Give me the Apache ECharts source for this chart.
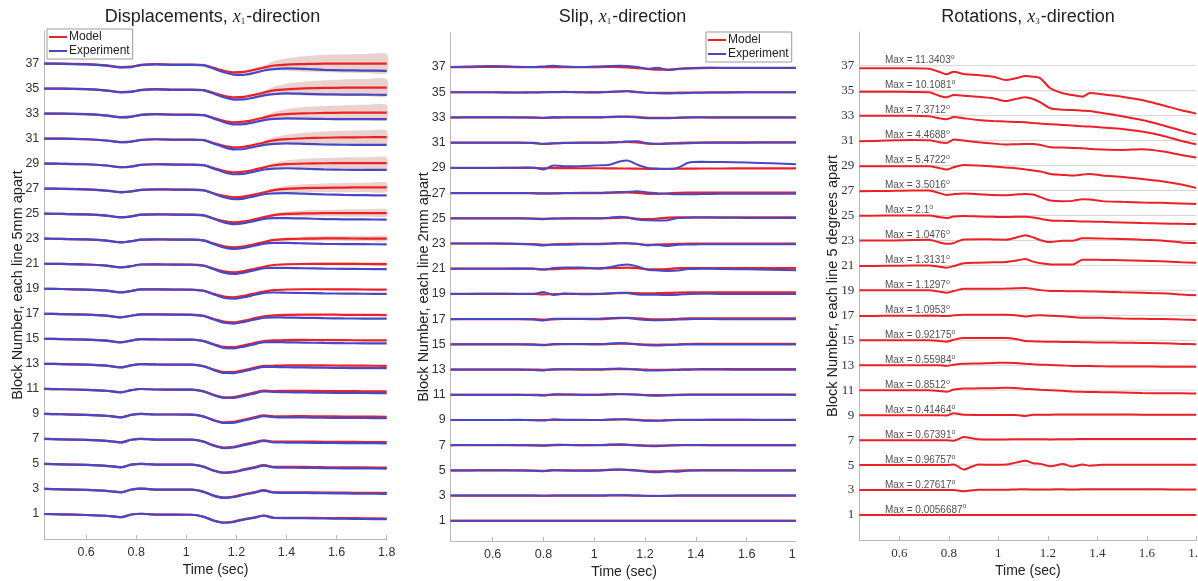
<!DOCTYPE html>
<html>
<head>
<meta charset="utf-8">
<title>Block response</title>
<script src="https://cdn.jsdelivr.net/npm/echarts@6/dist/echarts.min.js"></script>
<style>
  html, body { margin: 0; padding: 0; background: #fff; width: 1198px; height: 581px; overflow: hidden; }
  .panel { position: absolute; top: 0; height: 581px; overflow: hidden; }
</style>
</head>
<body>
<div id="p1" class="panel" style="left:0;width:400px"></div>
<div id="p2" class="panel" style="left:400px;width:396px"></div>
<div id="p3" class="panel" style="left:800px;width:398px"></div>
<script>
// ---- shared axes ----
const blocks = [1, 3, 5, 7, 9, 11, 13, 15, 17, 19, 21, 23, 25, 27, 29, 31, 33, 35, 37];
const timeTicks = [0.6, 0.8, 1, 1.2, 1.4, 1.6, 1.8];

// ---- displacements (offset from each block's line, in block units) ----
const dispTime = [0.433, 0.5, 0.6, 0.68, 0.74, 0.78, 0.82, 0.88, 0.95, 1.02, 1.07, 1.11, 1.15, 1.19, 1.23, 1.27, 1.31, 1.35, 1.4, 1.47, 1.55, 1.63, 1.71, 1.8];
const dispModel = [
  [0, -0.03, -0.08, -0.14, -0.25, -0.04, 0.02, -0.05, -0.05, -0.06, -0.22, -0.52, -0.68, -0.6, -0.42, -0.28, -0.12, -0.3, -0.3, -0.3, -0.32, -0.33, -0.34, -0.36],
  [0, -0.03, -0.08, -0.15, -0.26, -0.05, 0.02, -0.05, -0.05, -0.06, -0.23, -0.53, -0.69, -0.61, -0.42, -0.27, -0.1, -0.27, -0.27, -0.27, -0.29, -0.3, -0.31, -0.32],
  [0, -0.03, -0.08, -0.15, -0.26, -0.06, 0.01, -0.05, -0.05, -0.06, -0.23, -0.53, -0.69, -0.62, -0.43, -0.27, -0.1, -0.24, -0.24, -0.24, -0.26, -0.27, -0.28, -0.29],
  [0, -0.03, -0.08, -0.15, -0.27, -0.07, 0.01, -0.05, -0.05, -0.06, -0.22, -0.52, -0.69, -0.63, -0.44, -0.27, -0.11, -0.22, -0.21, -0.21, -0.23, -0.24, -0.25, -0.26],
  [0, -0.03, -0.08, -0.15, -0.27, -0.08, 0, -0.05, -0.05, -0.06, -0.21, -0.5, -0.68, -0.64, -0.46, -0.28, -0.12, -0.2, -0.19, -0.18, -0.2, -0.21, -0.22, -0.23],
  [0, -0.03, -0.08, -0.15, -0.27, -0.1, -0.01, -0.05, -0.06, -0.06, -0.2, -0.48, -0.67, -0.65, -0.48, -0.3, -0.14, -0.17, -0.16, -0.15, -0.17, -0.18, -0.19, -0.2],
  [0, -0.02, -0.07, -0.15, -0.27, -0.12, -0.02, -0.05, -0.06, -0.06, -0.19, -0.46, -0.66, -0.66, -0.5, -0.32, -0.16, -0.15, -0.13, -0.12, -0.13, -0.14, -0.15, -0.16],
  [0, -0.02, -0.07, -0.15, -0.27, -0.14, -0.03, -0.05, -0.06, -0.07, -0.18, -0.44, -0.65, -0.67, -0.52, -0.34, -0.18, -0.13, -0.1, -0.09, -0.1, -0.11, -0.12, -0.13],
  [0, -0.02, -0.07, -0.15, -0.27, -0.16, -0.04, -0.05, -0.06, -0.07, -0.17, -0.42, -0.63, -0.68, -0.55, -0.37, -0.2, -0.12, -0.08, -0.06, -0.07, -0.08, -0.09, -0.1],
  [0, -0.02, -0.07, -0.15, -0.28, -0.18, -0.05, -0.05, -0.06, -0.07, -0.16, -0.41, -0.62, -0.68, -0.57, -0.39, -0.22, -0.11, -0.06, -0.04, -0.04, -0.05, -0.06, -0.07],
  [0, -0.01, -0.06, -0.15, -0.28, -0.19, -0.06, -0.05, -0.07, -0.07, -0.15, -0.4, -0.61, -0.69, -0.59, -0.42, -0.24, -0.1, -0.04, -0.02, -0.01, -0.01, -0.02, -0.03],
  [0, -0.01, -0.06, -0.15, -0.28, -0.2, -0.07, -0.05, -0.07, -0.07, -0.14, -0.39, -0.6, -0.69, -0.61, -0.44, -0.26, -0.1, -0.03, 0, 0.02, 0.02, 0.01, 0],
  [0, -0.01, -0.06, -0.15, -0.28, -0.21, -0.08, -0.05, -0.07, -0.08, -0.13, -0.38, -0.59, -0.69, -0.62, -0.46, -0.28, -0.11, -0.02, 0.02, 0.04, 0.05, 0.05, 0.05],
  [0, -0.01, -0.05, -0.15, -0.28, -0.22, -0.09, -0.05, -0.07, -0.08, -0.13, -0.37, -0.58, -0.69, -0.63, -0.48, -0.3, -0.12, -0.02, 0.04, 0.07, 0.09, 0.1, 0.1],
  [0, -0.01, -0.05, -0.15, -0.28, -0.23, -0.09, -0.05, -0.07, -0.08, -0.12, -0.36, -0.58, -0.7, -0.64, -0.49, -0.3, -0.13, -0.04, 0.01, 0.03, 0.04, 0.04, 0.04],
  [0, 0, -0.05, -0.15, -0.28, -0.24, -0.1, -0.05, -0.08, -0.08, -0.12, -0.36, -0.58, -0.7, -0.65, -0.5, -0.31, -0.14, -0.04, 0.03, 0.07, 0.1, 0.11, 0.12],
  [0, 0, -0.05, -0.15, -0.28, -0.24, -0.1, -0.05, -0.08, -0.08, -0.12, -0.35, -0.58, -0.7, -0.65, -0.5, -0.31, -0.14, -0.05, 0.02, 0.05, 0.07, 0.08, 0.08],
  [0, 0, -0.05, -0.15, -0.28, -0.25, -0.1, -0.05, -0.08, -0.08, -0.12, -0.35, -0.58, -0.7, -0.66, -0.51, -0.32, -0.15, -0.06, 0.01, 0.05, 0.07, 0.08, 0.08],
  [0, 0, -0.05, -0.15, -0.28, -0.25, -0.1, -0.05, -0.08, -0.08, -0.12, -0.35, -0.58, -0.7, -0.66, -0.51, -0.32, -0.16, -0.08, -0.04, 0, 0, 0, 0]
];
const dispExp = [
  [0, -0.03, -0.08, -0.14, -0.26, -0.04, 0.02, -0.05, -0.05, -0.06, -0.23, -0.54, -0.7, -0.63, -0.45, -0.31, -0.14, -0.32, -0.33, -0.34, -0.36, -0.38, -0.4, -0.42],
  [0, -0.03, -0.08, -0.15, -0.27, -0.05, 0.02, -0.05, -0.05, -0.06, -0.24, -0.55, -0.71, -0.64, -0.46, -0.31, -0.13, -0.3, -0.31, -0.32, -0.34, -0.36, -0.38, -0.39],
  [0, -0.03, -0.08, -0.15, -0.27, -0.06, 0.01, -0.05, -0.05, -0.06, -0.24, -0.55, -0.72, -0.66, -0.48, -0.32, -0.14, -0.28, -0.3, -0.31, -0.33, -0.35, -0.36, -0.37],
  [0, -0.03, -0.08, -0.15, -0.28, -0.07, 0.01, -0.05, -0.05, -0.06, -0.23, -0.55, -0.73, -0.68, -0.5, -0.33, -0.16, -0.27, -0.29, -0.3, -0.32, -0.33, -0.34, -0.35],
  [0, -0.03, -0.08, -0.15, -0.28, -0.08, 0, -0.05, -0.05, -0.06, -0.22, -0.53, -0.73, -0.7, -0.53, -0.35, -0.18, -0.26, -0.28, -0.29, -0.31, -0.32, -0.33, -0.34],
  [0, -0.03, -0.08, -0.15, -0.28, -0.1, -0.01, -0.05, -0.06, -0.06, -0.21, -0.51, -0.73, -0.72, -0.56, -0.38, -0.21, -0.25, -0.27, -0.29, -0.31, -0.32, -0.33, -0.34],
  [0, -0.02, -0.07, -0.15, -0.28, -0.12, -0.02, -0.05, -0.06, -0.07, -0.2, -0.5, -0.73, -0.74, -0.59, -0.41, -0.24, -0.25, -0.27, -0.29, -0.31, -0.33, -0.34, -0.35],
  [0, -0.02, -0.07, -0.15, -0.28, -0.14, -0.03, -0.05, -0.07, -0.07, -0.19, -0.48, -0.73, -0.76, -0.62, -0.44, -0.27, -0.26, -0.28, -0.3, -0.33, -0.35, -0.36, -0.37],
  [0, -0.02, -0.07, -0.15, -0.28, -0.16, -0.04, -0.05, -0.07, -0.08, -0.18, -0.46, -0.72, -0.78, -0.65, -0.47, -0.3, -0.28, -0.3, -0.32, -0.35, -0.37, -0.38, -0.39],
  [0, -0.02, -0.07, -0.15, -0.29, -0.18, -0.05, -0.05, -0.07, -0.08, -0.17, -0.45, -0.72, -0.8, -0.68, -0.5, -0.33, -0.3, -0.32, -0.34, -0.37, -0.39, -0.4, -0.41],
  [0, -0.01, -0.06, -0.15, -0.29, -0.19, -0.06, -0.05, -0.07, -0.08, -0.16, -0.44, -0.71, -0.81, -0.71, -0.53, -0.36, -0.32, -0.33, -0.36, -0.39, -0.41, -0.42, -0.43],
  [0, -0.01, -0.06, -0.15, -0.29, -0.2, -0.07, -0.05, -0.08, -0.08, -0.15, -0.43, -0.7, -0.82, -0.73, -0.56, -0.39, -0.34, -0.34, -0.37, -0.41, -0.43, -0.44, -0.45],
  [0, -0.01, -0.06, -0.15, -0.29, -0.21, -0.08, -0.05, -0.08, -0.09, -0.14, -0.42, -0.69, -0.83, -0.76, -0.59, -0.42, -0.36, -0.35, -0.38, -0.43, -0.45, -0.46, -0.47],
  [0, -0.01, -0.05, -0.15, -0.29, -0.23, -0.09, -0.05, -0.08, -0.09, -0.14, -0.41, -0.69, -0.84, -0.79, -0.62, -0.45, -0.38, -0.36, -0.4, -0.46, -0.5, -0.52, -0.54],
  [0, -0.01, -0.05, -0.15, -0.29, -0.24, -0.1, -0.05, -0.08, -0.09, -0.13, -0.4, -0.68, -0.85, -0.81, -0.65, -0.47, -0.4, -0.37, -0.41, -0.46, -0.49, -0.5, -0.5],
  [0, 0, -0.05, -0.15, -0.29, -0.25, -0.11, -0.05, -0.09, -0.09, -0.13, -0.4, -0.68, -0.86, -0.83, -0.67, -0.5, -0.42, -0.38, -0.42, -0.47, -0.49, -0.5, -0.5],
  [0, 0, -0.05, -0.16, -0.3, -0.26, -0.11, -0.05, -0.09, -0.1, -0.13, -0.4, -0.68, -0.87, -0.85, -0.7, -0.52, -0.43, -0.38, -0.4, -0.43, -0.44, -0.45, -0.45],
  [0, 0, -0.05, -0.16, -0.3, -0.27, -0.12, -0.06, -0.1, -0.1, -0.14, -0.41, -0.69, -0.88, -0.87, -0.72, -0.54, -0.44, -0.39, -0.42, -0.46, -0.48, -0.49, -0.5],
  [0, -0.02, -0.07, -0.17, -0.3, -0.28, -0.12, -0.06, -0.1, -0.1, -0.15, -0.42, -0.7, -0.88, -0.9, -0.75, -0.56, -0.45, -0.39, -0.43, -0.5, -0.54, -0.56, -0.58]
];
// model spread (half width) for the upper blocks
const dispBandBlocks = [21, 23, 25, 27, 29, 31, 33, 35, 37];
const dispBand = [
  [0, 0, 0, 0, 0, 0, 0, 0, 0, 0, 0, 0, 0, 0, 0, 0, 0.02, 0.05, 0.08, 0.1, 0.12, 0.13, 0.13, 0.13],
  [0, 0, 0, 0, 0, 0, 0, 0, 0, 0, 0, 0, 0, 0, 0, 0.01, 0.04, 0.08, 0.13, 0.17, 0.19, 0.2, 0.21, 0.21],
  [0, 0, 0, 0, 0, 0, 0, 0, 0, 0, 0, 0, 0, 0, 0, 0.02, 0.06, 0.12, 0.19, 0.24, 0.27, 0.29, 0.3, 0.3],
  [0, 0, 0, 0, 0, 0, 0, 0, 0, 0, 0, 0, 0, 0, 0, 0.02, 0.08, 0.16, 0.25, 0.31, 0.35, 0.37, 0.38, 0.39],
  [0, 0, 0, 0, 0, 0, 0, 0, 0, 0, 0, 0, 0, 0, 0, 0.03, 0.1, 0.2, 0.3, 0.38, 0.42, 0.45, 0.46, 0.47],
  [0, 0, 0, 0, 0, 0, 0, 0, 0, 0, 0, 0, 0, 0, 0, 0.03, 0.12, 0.24, 0.35, 0.44, 0.5, 0.53, 0.55, 0.56],
  [0, 0, 0, 0, 0, 0, 0, 0, 0, 0, 0, 0, 0, 0, 0, 0.04, 0.14, 0.27, 0.4, 0.5, 0.56, 0.6, 0.62, 0.63],
  [0, 0, 0, 0, 0, 0, 0, 0, 0, 0, 0, 0, 0, 0, 0, 0.04, 0.15, 0.3, 0.45, 0.56, 0.62, 0.66, 0.68, 0.7],
  [0, 0, 0, 0, 0, 0, 0, 0, 0, 0, 0, 0, 0, 0, 0, 0.05, 0.18, 0.35, 0.5, 0.62, 0.7, 0.74, 0.76, 0.78]
];

// ---- slip ----
const slipTime = [0.435, 0.5, 0.6, 0.7, 0.76, 0.8, 0.84, 0.88, 0.95, 1.02, 1.06, 1.1, 1.13, 1.17, 1.21, 1.25, 1.29, 1.33, 1.37, 1.42, 1.5, 1.6, 1.7, 1.8];
const slipModel = [
  [0, 0, 0, 0, 0, 0, 0, 0, 0, 0, 0, 0, 0, 0, 0, 0, 0, 0, 0, 0, 0, 0, 0, 0],
  [0, 0, 0, 0, 0, -0.01, 0, 0, 0, 0, 0.01, 0.02, 0.02, 0, -0.02, -0.03, -0.02, 0, 0, 0, 0, 0, 0, 0],
  [0, 0, 0, 0, -0.01, -0.04, 0, 0.01, 0, 0, 0.04, 0.06, 0.04, 0, -0.05, -0.08, -0.05, -0.02, 0, 0, 0, 0, 0, 0],
  [0, 0, 0, 0, 0, -0.02, 0, 0.02, 0.01, 0, 0.02, 0.03, 0.03, 0, -0.03, -0.04, -0.02, 0, 0, 0, 0, 0, 0, 0],
  [0, 0, 0, 0, 0, 0, 0, 0, 0, 0, 0.02, 0.04, 0.04, 0.01, -0.03, -0.04, -0.02, 0, 0, 0, 0.01, 0.01, 0.01, 0.01],
  [0, 0, 0, 0, 0, -0.02, 0, 0.01, 0, 0, 0.02, 0.04, 0.04, 0.02, -0.02, -0.03, -0.02, 0, 0.02, 0.02, 0.02, 0.02, 0.02, 0.02],
  [0, 0, 0, 0, 0, -0.02, 0, 0.01, 0, 0, 0.02, 0.04, 0.04, 0.02, -0.01, -0.03, -0.02, 0, 0.02, 0.03, 0.03, 0.03, 0.03, 0.03],
  [0, 0, 0, 0, 0, -0.03, -0.01, 0.01, 0.01, 0, 0.03, 0.05, 0.05, 0.02, -0.02, -0.03, -0.02, 0, 0.03, 0.04, 0.04, 0.04, 0.04, 0.04],
  [0, 0, 0, 0, 0, -0.04, -0.02, 0.01, 0.01, 0, 0.04, 0.08, 0.1, 0.06, 0, -0.02, -0.01, 0.02, 0.06, 0.06, 0.06, 0.06, 0.06, 0.06],
  [0, 0, 0, 0, 0, -0.03, -0.02, 0, 0.01, 0.01, 0.04, 0.07, 0.08, 0.06, 0.04, 0.06, 0.08, 0.1, 0.12, 0.12, 0.13, 0.13, 0.13, 0.13],
  [0, 0, 0, 0, 0, -0.05, -0.04, 0, 0.02, 0.02, 0.05, 0.07, 0.08, 0.04, -0.04, -0.05, -0.03, 0.04, 0.05, 0.05, 0.05, 0.05, 0.05, 0.05],
  [0, 0, 0, -0.02, -0.05, -0.1, -0.06, -0.04, -0.03, -0.02, 0, 0.02, 0.02, -0.04, -0.1, -0.08, -0.06, -0.03, -0.01, 0, 0, 0, 0, 0],
  [0, 0, 0, 0, -0.02, -0.04, -0.02, -0.01, 0, 0, 0.02, 0.04, 0.06, -0.04, -0.06, -0.02, 0.06, 0.08, 0.08, 0.08, 0.08, 0.07, 0.07, 0.07],
  [0, 0, 0, 0, -0.01, -0.03, -0.02, -0.01, 0, 0, 0.02, 0.04, 0.05, 0.02, -0.06, -0.06, -0.02, 0.02, 0.04, 0.04, 0.04, 0.04, 0.04, 0.04],
  [0, 0, 0, 0, -0.01, -0.03, -0.02, -0.02, -0.03, -0.03, -0.04, -0.05, -0.05, -0.06, -0.08, -0.08, -0.08, -0.07, -0.06, -0.05, -0.05, -0.04, -0.04, -0.04],
  [0, 0, 0, 0, -0.02, -0.1, -0.06, -0.02, 0, 0, 0.02, 0.04, 0.06, 0.02, -0.08, -0.1, -0.06, -0.03, 0, 0.01, 0.02, 0.02, 0.02, 0.02],
  [0, 0, 0, 0, 0, -0.03, -0.02, 0, 0.01, 0, 0.03, 0.05, 0.07, 0.04, -0.03, -0.04, -0.03, -0.02, 0, 0, 0, 0, 0, 0],
  [0, 0, 0, -0.02, 0, 0, 0, 0.02, 0, -0.01, 0.04, 0.06, 0.1, 0.02, -0.04, -0.05, -0.05, -0.03, -0.02, -0.02, -0.01, 0, 0, 0],
  [0, 0, 0.02, 0, 0, 0, 0, 0, 0, 0, 0.01, 0, -0.02, -0.08, -0.15, -0.2, -0.2, -0.15, -0.1, -0.08, -0.07, -0.07, -0.07, -0.07]
];
const slipExp = [
  [0, 0, 0, 0, 0, 0, 0, 0, 0, 0, 0, 0, 0, 0, 0, 0, 0, 0, 0, 0, 0, 0, 0, 0],
  [0, 0, 0.01, 0, 0, -0.02, 0, 0, 0.01, 0.01, 0.02, 0.03, 0.02, 0, -0.03, -0.04, -0.02, 0, 0, 0.01, 0.01, 0, 0, 0],
  [0, 0, 0.01, 0, -0.02, -0.06, 0.03, 0, -0.02, 0, 0.06, 0.08, 0.03, -0.02, -0.1, -0.14, -0.06, -0.1, 0, 0.02, 0.01, 0, 0, 0],
  [0, 0.01, 0.01, 0, -0.02, -0.04, 0.04, 0.02, 0, 0.01, 0.05, 0.08, 0.04, -0.02, -0.06, -0.08, -0.03, 0, 0.01, 0.01, 0, 0, 0, 0],
  [0, 0, 0, 0.01, -0.02, -0.05, 0.05, 0.02, 0.01, 0, 0.04, 0.06, 0.05, -0.02, -0.07, -0.06, -0.02, 0.01, 0.02, 0.02, 0.01, 0.01, 0, 0],
  [0, 0, 0.01, 0.01, -0.03, -0.06, 0.04, 0.03, 0, 0.01, 0.05, 0.07, 0.05, 0, -0.06, -0.08, -0.04, -0.02, 0, 0.01, 0, 0, 0, -0.01],
  [0, 0.01, 0.01, 0, -0.03, -0.07, 0.03, 0.02, 0.02, 0.02, 0.06, 0.09, 0.06, 0, -0.07, -0.08, -0.05, -0.03, -0.01, 0, 0, -0.01, -0.01, -0.01],
  [0, 0.01, 0.01, 0, -0.03, -0.08, 0.03, 0.03, 0.02, 0.02, 0.06, 0.1, 0.06, -0.02, -0.08, -0.1, -0.06, -0.03, -0.01, 0, -0.01, -0.01, -0.02, -0.02],
  [0, 0.01, 0.02, 0.01, -0.03, -0.1, 0.04, 0.04, 0.03, 0.03, 0.08, 0.12, 0.1, 0, -0.06, -0.08, -0.06, -0.03, 0, 0.01, 0, 0, -0.01, -0.01],
  [0, 0, 0.01, 0, 0, 0.16, -0.08, 0.04, -0.02, 0, 0.04, 0.1, 0.08, -0.04, -0.06, -0.07, -0.08, -0.06, 0, 0.02, 0, -0.01, -0.01, 0],
  [0, 0, 0, 0.01, 0, -0.07, 0.05, 0.1, 0.1, 0.02, 0.12, 0.28, 0.34, 0.18, -0.08, -0.14, -0.18, -0.15, -0.02, 0, -0.02, -0.05, -0.08, -0.12],
  [0, 0, 0, -0.03, -0.08, -0.15, -0.1, -0.1, -0.06, -0.05, -0.02, 0.02, 0.02, -0.02, -0.15, -0.1, -0.2, -0.1, -0.08, -0.06, -0.05, -0.05, -0.05, -0.05],
  [0, 0, 0, 0, -0.03, -0.07, -0.02, -0.01, 0, 0.01, 0.04, 0.13, 0.06, -0.1, -0.16, -0.17, -0.15, 0.02, 0.05, 0.06, 0.05, 0.03, 0.02, 0.03],
  [0, 0, 0, 0, -0.01, -0.04, -0.02, 0, 0.02, 0.02, 0.05, 0.08, 0.1, 0.14, 0.04, -0.02, -0.06, -0.1, -0.1, -0.08, -0.06, -0.05, -0.05, -0.05],
  [0, 0, 0, 0.02, 0.03, -0.13, 0.19, 0.13, 0.15, 0.2, 0.25, 0.5, 0.58, 0.25, 0, -0.06, -0.08, 0.02, 0.4, 0.48, 0.46, 0.42, 0.36, 0.28],
  [0, 0, 0, 0, -0.02, -0.1, -0.05, -0.02, 0, 0, 0.02, 0.06, 0.1, 0.12, -0.05, -0.1, -0.08, -0.06, -0.05, -0.01, 0, 0, 0.01, 0.01],
  [0, 0.02, 0.02, 0, -0.02, -0.04, 0.03, 0.02, 0.02, 0.01, 0.05, 0.08, 0.06, 0, -0.06, -0.07, -0.06, -0.02, 0, 0.01, 0, 0, 0, 0],
  [0, 0, 0, -0.03, -0.02, 0, 0.02, 0.03, 0, 0, 0.02, 0.05, 0.07, 0, -0.05, -0.08, -0.1, -0.08, -0.06, -0.04, -0.02, 0, 0, 0],
  [0, 0.04, 0.08, 0.02, 0, 0.05, 0.1, 0.05, 0, 0.05, 0.08, 0.1, 0.08, 0, -0.14, -0.05, -0.24, -0.15, -0.1, -0.06, -0.07, -0.08, -0.08, -0.08]
];

// ---- rotations ----
const rotTime = [0.438, 0.55, 0.65, 0.72, 0.76, 0.79, 0.82, 0.86, 0.92, 0.98, 1.03, 1.07, 1.11, 1.14, 1.17, 1.21, 1.26, 1.3, 1.34, 1.37, 1.42, 1.5, 1.58, 1.66, 1.74, 1.8];
const rotModel = [
  [0, 0, 0, 0, 0, 0, 0, 0, 0, 0, 0, 0, 0, 0, 0, 0, 0, 0, 0, 0, 0, 0, 0, 0, 0, 0],
  [0, 0, 0, 0, 0, 0, 0, -0.1, 0.02, 0.02, 0.02, 0.05, 0.06, 0.05, 0.04, 0.05, 0.06, 0.05, 0.06, 0.06, 0.06, 0.07, 0.06, 0.06, 0.05, 0.05],
  [0, 0, 0, 0, 0, 0, 0.05, -0.35, 0.05, 0.02, 0.05, 0.2, 0.35, 0.15, 0.1, -0.1, 0.08, -0.12, 0.05, -0.05, 0.02, 0.02, 0.02, 0.02, 0.02, 0.02],
  [0, 0, 0, 0, 0, 0, -0.05, 0.25, 0.08, 0.06, 0.06, 0.07, 0.08, 0.08, 0.07, 0.06, 0.07, 0.08, 0.09, 0.09, 0.1, 0.1, 0.1, 0.1, 0.1, 0.1],
  [0, 0, 0, 0, 0, -0.03, 0.15, 0.03, 0.02, 0.02, 0.02, 0.02, -0.06, 0.03, 0.04, 0.04, 0.05, 0.05, 0.05, 0.05, 0.05, 0.05, 0.04, 0.04, 0.04, 0.04],
  [0, 0, 0, 0, -0.07, -0.13, 0.05, 0.13, 0.15, 0.16, 0.19, 0.17, 0.1, 0.08, 0.04, 0, -0.05, -0.1, -0.13, -0.14, -0.16, -0.18, -0.22, -0.24, -0.24, -0.26],
  [0, 0, 0, 0, 0, -0.05, 0.05, 0.13, 0.15, 0.18, 0.21, 0.18, 0.12, 0.08, 0.05, 0.02, -0.02, -0.05, -0.05, -0.06, -0.08, -0.1, -0.1, -0.11, -0.11, -0.11],
  [0, 0, 0, 0, -0.05, -0.11, 0.05, 0.19, 0.18, 0.19, 0.18, 0.1, -0.05, -0.08, -0.1, -0.12, -0.13, -0.14, -0.15, -0.16, -0.18, -0.19, -0.21, -0.24, -0.29, -0.32],
  [-0.05, -0.04, -0.03, -0.02, -0.04, -0.06, 0, 0.05, 0.05, 0.05, 0.04, 0, -0.1, -0.02, 0, -0.03, -0.08, -0.14, -0.19, -0.19, -0.2, -0.26, -0.28, -0.3, -0.34, -0.37],
  [0, 0, 0, 0, -0.1, -0.19, -0.05, 0.12, 0.13, 0.13, 0.14, 0.17, 0.19, 0.12, 0.02, -0.05, -0.06, -0.08, -0.08, -0.09, -0.11, -0.16, -0.2, -0.24, -0.33, -0.4],
  [-0.05, -0.03, 0, 0, -0.1, -0.18, -0.05, 0.18, 0.22, 0.25, 0.27, 0.38, 0.52, 0.3, 0.18, 0.08, 0.08, 0.08, 0.45, 0.46, 0.44, 0.42, 0.38, 0.33, 0.25, 0.21],
  [0, 0, 0.03, 0.05, -0.15, -0.27, -0.2, 0.08, 0.1, 0.08, 0.06, 0.22, 0.42, 0.25, 0.02, -0.13, -0.02, -0.02, 0.18, 0.18, 0.15, 0.12, 0.05, 0, -0.16, -0.21],
  [-0.03, 0, 0, 0, -0.13, -0.21, -0.08, -0.05, -0.08, -0.11, -0.13, -0.11, -0.11, -0.16, -0.27, -0.4, -0.43, -0.45, -0.48, -0.48, -0.51, -0.56, -0.61, -0.64, -0.67, -0.69],
  [-0.05, -0.03, 0, 0, -0.19, -0.35, -0.29, -0.24, -0.29, -0.35, -0.37, -0.32, -0.27, -0.32, -0.53, -0.8, -0.85, -0.83, -0.69, -0.72, -0.85, -0.91, -0.96, -0.99, -1.04, -1.09],
  [-0.05, -0.05, -0.05, -0.05, -0.19, -0.32, -0.13, 0.05, 0, -0.08, -0.16, -0.21, -0.32, -0.4, -0.48, -0.67, -0.75, -0.8, -0.72, -0.67, -0.8, -0.91, -1.07, -1.25, -1.52, -1.79],
  [-0.05, 0, 0.05, 0.03, -0.13, -0.19, 0.08, 0, -0.13, -0.24, -0.32, -0.29, -0.27, -0.27, -0.35, -0.53, -0.56, -0.59, -0.61, -0.67, -0.72, -0.75, -0.69, -0.85, -1.15, -1.36],
  [0, 0, 0, -0.05, -0.21, -0.29, -0.11, -0.21, -0.35, -0.43, -0.48, -0.51, -0.53, -0.59, -0.64, -0.69, -0.75, -0.8, -0.85, -0.88, -0.96, -1.07, -1.28, -1.6, -2.03, -2.29],
  [-0.08, -0.08, -0.1, -0.13, -0.4, -0.53, -0.35, -0.4, -0.48, -0.61, -0.83, -0.67, -0.53, -0.67, -0.93, -1.41, -1.52, -1.55, -1.6, -1.63, -1.79, -2.05, -2.35, -2.75, -3.2, -3.52],
  [-0.21, -0.21, -0.2, -0.24, -0.48, -0.69, -0.48, -0.67, -0.75, -0.88, -1.15, -1.01, -0.83, -0.88, -1.01, -1.81, -2.21, -2.35, -2.48, -2.19, -2.29, -2.48, -2.75, -3.15, -3.57, -3.84]
];
const rotMax = ['0.0056687', '0.27617', '0.96757', '0.67391', '0.41464', '0.8512', '0.55984', '0.92175', '1.0953', '1.1297',
  '1.3131', '1.0476', '2.1', '3.5016', '5.4722', '4.4688', '7.3712', '10.1081', '11.3403'];
const rotMaxLabelTime = 0.542;

// ---- styling ----
const RED = '#ee2027';
const BLUE = '#4848c6';
const AXIS = '#b8b8b8';
const SANS = '"Liberation Sans", Arial, Helvetica, sans-serif';
const SERIF = '"Liberation Serif", "Times New Roman", serif';

function axes(cfg) {
  return {
    xAxis: {
      type: 'value', min: cfg.xmin, max: 1.8,
      axisLine: { show: true, onZero: false, lineStyle: { color: AXIS, width: 1 } },
      axisTick: { show: true, inside: true, length: 4, customValues: timeTicks, lineStyle: { color: AXIS } },
      axisLabel: { customValues: timeTicks, margin: 7, fontSize: cfg.tickSize, color: '#333', fontFamily: cfg.tickFont },
      splitLine: { show: false },
      name: 'Time (sec)', nameLocation: 'middle', nameGap: 24, nameMoveOverlap: false,
      nameTextStyle: { fontSize: 14, color: '#222', fontFamily: SANS }
    },
    yAxis: {
      type: 'value', min: cfg.ymin, max: cfg.ymax,
      axisLine: { show: true, onZero: false, lineStyle: { color: AXIS, width: 1 } },
      axisTick: { show: true, inside: true, length: 4, customValues: blocks, lineStyle: { color: AXIS } },
      axisLabel: { customValues: blocks, margin: 5, fontSize: cfg.tickSize, color: '#333', fontFamily: cfg.tickFont },
      splitLine: { show: false },
      name: cfg.yName, nameLocation: 'middle', nameGap: 19, nameMoveOverlap: false,
      nameTextStyle: { fontSize: 14.5, color: '#222', fontFamily: SANS }
    }
  };
}

function gridAt(left, top, width) {
  return { left: left, top: top, width: width, height: 508, outerBoundsMode: 'none', containLabel: false };
}

function titleGraphic(x, head, sub, tail) {
  return {
    type: 'text', x: x, y: 17, silent: true,
    style: {
      text: '{a|' + head + '}{x|x}{s|' + sub + '}{a|' + tail + '}',
      align: 'center', verticalAlign: 'middle',
      rich: {
        a: { fontSize: 18, fontFamily: SANS, fill: '#222', color: '#222' },
        x: { fontSize: 18, fontFamily: SERIF, fontStyle: 'italic', fill: '#222', color: '#222' },
        s: { fontSize: 9, fontFamily: SERIF, fill: '#222', color: '#222', padding: [9, 1, 0, 0] }
      }
    }
  };
}

function lineSeries(name, times, rows, color, width, z) {
  return blocks.map(function (b, i) {
    return {
      type: 'line', name: name, z: z, silent: true, symbol: 'none', smooth: 0.25,
      lineStyle: { color: color, width: width }, itemStyle: { color: color },
      data: times.map(function (t, k) { return [t, b + rows[i][k]]; })
    };
  });
}

const legendBase = {
  orient: 'vertical', itemWidth: 18, itemHeight: 2, icon: 'rect', itemGap: 2,
  padding: [2, 3, 2, 2], borderColor: '#9a9a9a', borderWidth: 1, backgroundColor: '#fff',
  textStyle: { fontSize: 12, color: '#222', fontFamily: SANS, padding: [0, 0, 0, -3] },
  data: ['Model', 'Experiment']
};

// ---- panel 1: displacements ----
(function () {
  const chart = echarts.init(document.getElementById('p1'), null, { renderer: 'canvas' });
  // spread around the model curve, drawn as one polygon per block
  const spread = {
    type: 'custom', name: 'spread', z: 1, silent: true, clip: true,
    data: dispBandBlocks.map(function (b, j) { return [dispTime[dispTime.length - 1], b, j]; }),
    renderItem: function (params, api) {
      const j = params.dataIndex;
      const b = dispBandBlocks[j];
      const i = blocks.indexOf(b);
      const upper = [], lower = [];
      dispTime.forEach(function (t, k) {
        if (k < 14) return;
        upper.push(api.coord([t, b + dispModel[i][k] + dispBand[j][k]]));
        lower.push(api.coord([t, b + dispModel[i][k] - dispBand[j][k]]));
      });
      return {
        type: 'polygon',
        shape: { points: upper.concat(lower.reverse()), smooth: 0.2 },
        style: { fill: 'rgba(200,140,130,0.38)' }
      };
    }
  };
  const opt = Object.assign({
    animation: false,
    grid: gridAt(44.3, 31, 342.4),
    legend: Object.assign({}, legendBase, { left: 47, top: 29 }),
    graphic: [titleGraphic(212.5, 'Displacements, ', '1', '-direction')],
    series: [spread]
      .concat(lineSeries('Model', dispTime, dispModel, RED, 2.2, 2))
      .concat(lineSeries('Experiment', dispTime, dispExp, BLUE, 2.2, 3))
  }, axes({ xmin: 0.433, ymin: -1, ymax: 39.6, tickSize: 12.5, tickFont: SANS, yName: 'Block Number, each line 5mm apart' }));
  chart.setOption(opt);
})();

// ---- panel 2: slip ----
(function () {
  const chart = echarts.init(document.getElementById('p2'), null, { renderer: 'canvas' });
  const opt = Object.assign({
    animation: false,
    grid: gridAt(50.7, 33, 346.8),
    legend: Object.assign({}, legendBase, { left: 306, top: 32 }),
    graphic: [titleGraphic(222.5, 'Slip, ', '1', '-direction')],
    series: lineSeries('Model', slipTime, slipModel, RED, 2.2, 2)
      .concat(lineSeries('Experiment', slipTime, slipExp, BLUE, 2, 3))
  }, axes({ xmin: 0.435, ymin: -0.6, ymax: 39.7, tickSize: 12.5, tickFont: SANS, yName: 'Block Number, each line 2mm apart' }));
  chart.setOption(opt);
})();

// ---- panel 3: rotations ----
(function () {
  const chart = echarts.init(document.getElementById('p3'), null, { renderer: 'canvas' });
  const refLines = blocks.map(function (b) {
    return {
      type: 'line', name: 'ref' + b, z: 1, silent: true, symbol: 'none',
      lineStyle: { color: '#d4d4d4', width: 1 },
      data: [[rotTime[0], b], [rotTime[rotTime.length - 1], b]]
    };
  });
  const maxLabels = {
    type: 'scatter', name: 'max', z: 4, silent: true, symbolSize: 0,
    data: blocks.map(function (b, i) { return [rotMaxLabelTime, b, rotMax[i]]; }),
    label: {
      show: true, position: 'right', distance: 0, offset: [0, -5],
      formatter: function (p) { return '{m|Max = ' + p.data[2] + '}{o|o}'; },
      rich: {
        m: { fontSize: 10, fontFamily: SANS, color: '#222' },
        o: { fontSize: 7, fontFamily: SANS, color: '#222', padding: [0, 0, 7, 0] }
      }
    }
  };
  const opt = Object.assign({
    animation: false,
    grid: gridAt(59.3, 32, 337),
    graphic: [titleGraphic(228, 'Rotations, ', '3', '-direction')],
    series: refLines
      .concat(lineSeries('Model', rotTime, rotModel, RED, 2, 2))
      .concat([maxLabels])
  }, axes({ xmin: 0.438, ymin: -1, ymax: 39.7, tickSize: 13, tickFont: SERIF, yName: 'Block Number, each line 5 degrees apart' }));
  chart.setOption(opt);
})();
</script>
</body>
</html>
